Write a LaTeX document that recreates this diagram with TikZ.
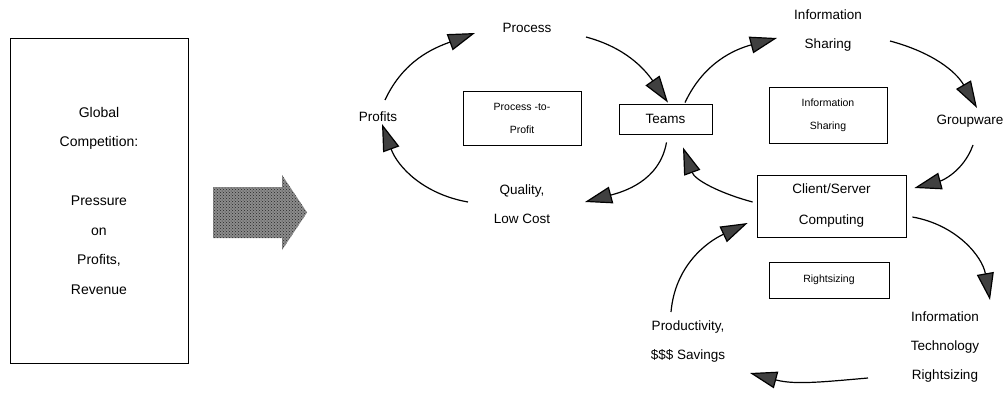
\documentclass[tikz,border=0pt]{standalone}
\usepackage{fontspec}
\setmainfont{Liberation Sans}
\usetikzlibrary{arrows.meta,patterns}

\begin{document}
\begin{tikzpicture}[x=1pt,y=1pt,>={Triangle[length=27pt,width=17pt,fill=black!75]},
    lbl/.style={align=center,font=\fontsize{13.5}{29}\selectfont,inner sep=0pt},
    box/.style={draw,line width=0.8pt,align=center,inner sep=0pt,font=\fontsize{10.5}{23}\selectfont},
    turn/.style={->,line width=1.2pt}]

            \useasboundingbox (0,0) rectangle (1007,392);

            \node[draw, line width=0.8pt, minimum width=178pt, minimum height=325pt, align=center,
                  font=\fontsize{14}{29.5}\selectfont] (global) at (99,191.5)
                  {Global\\Competition:\\[29.5pt]Pressure\\on\\Profits,\\Revenue};

            % shaded push arrow
            \fill[black!45]
                  (213,205) -- (282,205) -- (282,217) -- (307,179.5) -- (282,142) -- (282,154) -- (213,154) -- cycle;
            \fill[pattern=crosshatch dots, pattern color=black!85]
                  (213,205) -- (282,205) -- (282,217) -- (307,179.5) -- (282,142) -- (282,154) -- (213,154) -- cycle;

            \node[lbl] (process) at (527,364) {Process};
            \node[lbl] (profits) at (378,275) {Profits};
            \node[lbl] (quality) at (522,188) {Quality,\\Low Cost};
            \node[box, minimum width=118pt, minimum height=54pt] (ptp) at (522,274) {Process -to-\\Profit};
            \node[box, font=\fontsize{13.5}{16}\selectfont, minimum width=93pt, minimum height=30pt] (teams) at (665.5,273) {Teams};

            \node[lbl] (info) at (828,361.5) {Information\\Sharing};
            \node[box, minimum width=118pt, minimum height=56pt] (infobox) at (828,277) {Information\\Sharing};
            \node[lbl] (groupware) at (970,271) {Groupware};
            \node[box, font=\fontsize{13.5}{31}\selectfont, minimum width=149pt, minimum height=62pt] (cs) at (831.5,186) {Client/Server\\Computing};

            \node[box, minimum width=120pt, minimum height=36pt] (rightbox) at (829,112) {Rightsizing};
            \node[lbl] (itr) at (945,45) {Information\\Technology\\Rightsizing};
            \node[lbl] (prod) at (688,50) {Productivity,\\\$\$\$ Savings};

            % process-to-profit loop
            \draw[turn] ([shift={(7,17)}]profits.center) to[out=65,in=200] ([shift={(-52,-5)}]process.center);
            \draw[turn] ([shift={(59,-9)}]process.center) to[out=-15,in=125] ([shift={(2.5,1)}]teams.north);
            \draw[turn] ([shift={(1,-8)}]teams.south) to[out=-100,in=15] ([shift={(63,2)}]quality.center);
            \draw[turn] ([shift={(-54,2)}]quality.center) to[out=170,in=-70] ([shift={(4,-7)}]profits.center);

            % information sharing loop
            \draw[turn] ([shift={(19.5,1)}]teams.north) to[out=65,in=195] ([shift={(-51,-7.5)}]info.center);
            \draw[turn] ([shift={(62,-10.5)}]info.center) to[out=-15,in=120] ([shift={(7,13)}]groupware.center);
            \draw[turn] ([shift={(3,-24)}]groupware.center) to[out=-110,in=15] ([shift={(8,18)}]cs.east);
            \draw[turn] ([shift={(-4,4)}]cs.west) to[out=165,in=-70] ([shift={(17.5,-13)}]teams.south);

            % rightsizing loop
            \draw[turn] ([shift={(6,-11)}]cs.east) to[out=-10,in=100] ([shift={(45,47)}]itr.center);
            \draw[turn] ([shift={(-77,-31)}]itr.center) to[out=185,in=-15] ([shift={(62,-31)}]prod.center);
            \draw[turn] ([shift={(-17,30)}]prod.center) to[out=85,in=205] ([shift={(-9,-17)}]cs.west);

            ;
\end{tikzpicture}
\end{document}
